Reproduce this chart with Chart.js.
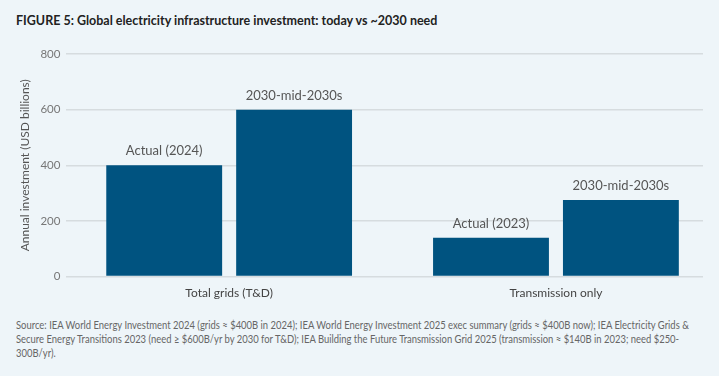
<!DOCTYPE html>
<html>
<head>
<meta charset="utf-8">
<script src="https://cdn.jsdelivr.net/npm/chart.js@4"></script>
<style>
  html, body { margin: 0; padding: 0; }
  body { width: 719px; height: 376px; background: #eef5f9; position: relative; overflow: hidden; font-family: Lato, "Open Sans", sans-serif; }
  #titulo { position: absolute; left: 16px; top: 13px; font-size: 12.5px; font-weight: bold; color: #222; }
  #grafico-wrap { position: absolute; left: 0; top: 40px; width: 719px; height: 271px; }
  #fuente { position: absolute; left: 16px; top: 318px; width: 855px; transform: scaleX(0.8); transform-origin: 0 0; font-family: Lato, sans-serif; font-size: 11.8px; line-height: 14px; color: #666; }
</style>
</head>
<body>
<div id="titulo">FIGURE 5: Global electricity infrastructure investment: today vs ~2030 need</div>
<div id="grafico-wrap"><canvas id="grafico"></canvas></div>
<div id="fuente">Source: IEA World Energy Investment 2024 (grids ≈ $400B in 2024); IEA World Energy Investment 2025 exec summary (grids ≈ $400B now); IEA Electricity Grids &amp; Secure Energy Transitions 2023 (need ≥ $600B/yr by 2030 for T&amp;D); IEA Building the Future Transmission Grid 2025 (transmission ≈ $140B in 2023; need $250-300B/yr).</div>
<script>
// Datos del gráfico
const categorias = ['Total grids (T&D)', 'Transmission only'];
const actual = [400, 140];
const necesidad = [600, 275];
const etiquetasActual = ['Actual (2024)', 'Actual (2023)'];
const etiquetasNecesidad = ['2030-mid-2030s', '2030-mid-2030s'];
const ticksY = [0, 200, 400, 600, 800];

const azul = '#005380';
const fuente = 'Lato, "Open Sans", sans-serif';

// Las categorías van en un eje lineal (0, 1) para poder dejar el hueco asimétrico del original
const puntos = serie => serie.map((v, i) => ({ x: i, y: v }));

// Plugin para escribir las etiquetas encima de las barras
const etiquetasBarras = {
    id: 'etiquetasBarras',
    afterDatasetsDraw(chart) {
        const ctx = chart.ctx;
        ctx.save();
        ctx.font = '13px ' + fuente;
        ctx.fillStyle = '#555';
        ctx.textAlign = 'center';
        ctx.textBaseline = 'middle';
        chart.data.datasets.forEach((ds, i) => {
            chart.getDatasetMeta(i).data.forEach((bar, j) => {
                ctx.fillText(ds.etiquetas[j], bar.x, bar.y - 14);
            });
        });
        ctx.restore();
    }
};

new Chart(document.getElementById('grafico'), {
    type: 'bar',
    data: {
        datasets: [
            { label: 'Actual', data: puntos(actual), etiquetas: etiquetasActual, backgroundColor: azul },
            { label: '2030-mid-2030s', data: puntos(necesidad), etiquetas: etiquetasNecesidad, backgroundColor: azul }
        ]
    },
    options: {
        responsive: true,
        maintainAspectRatio: false,
        animation: false,
        categoryPercentage: 0.795,
        barPercentage: 0.892,
        layout: { padding: { top: 14, right: 16, left: 18, bottom: 2 } },
        plugins: {
            legend: { display: false },
            tooltip: { enabled: false }
        },
        scales: {
            x: {
                type: 'linear',
                offset: false,
                min: -0.498,
                max: 1.45,
                afterBuildTicks: (eje) => { eje.ticks = categorias.map((c, i) => ({ value: i })); },
                grid: { display: false, drawTicks: false },
                border: { display: false },
                ticks: {
                    color: '#444',
                    font: { size: 12, family: fuente },
                    padding: 9,
                    callback: (v) => categorias[v]
                }
            },
            y: {
                min: 0,
                max: 800,
                afterBuildTicks: (eje) => { eje.ticks = ticksY.map(v => ({ value: v })); },
                grid: { color: '#d6dcdf', lineWidth: 1.5, drawTicks: false },
                border: { display: false },
                ticks: { color: '#777', font: { size: 11.5, family: fuente }, padding: 6 },
                title: {
                    display: true,
                    text: 'Annual investment (USD billions)',
                    color: '#555',
                    font: { size: 12, family: fuente },
                    padding: { top: 0, bottom: 2 }
                }
            }
        }
    },
    plugins: [etiquetasBarras]
});
</script>
</body>
</html>
